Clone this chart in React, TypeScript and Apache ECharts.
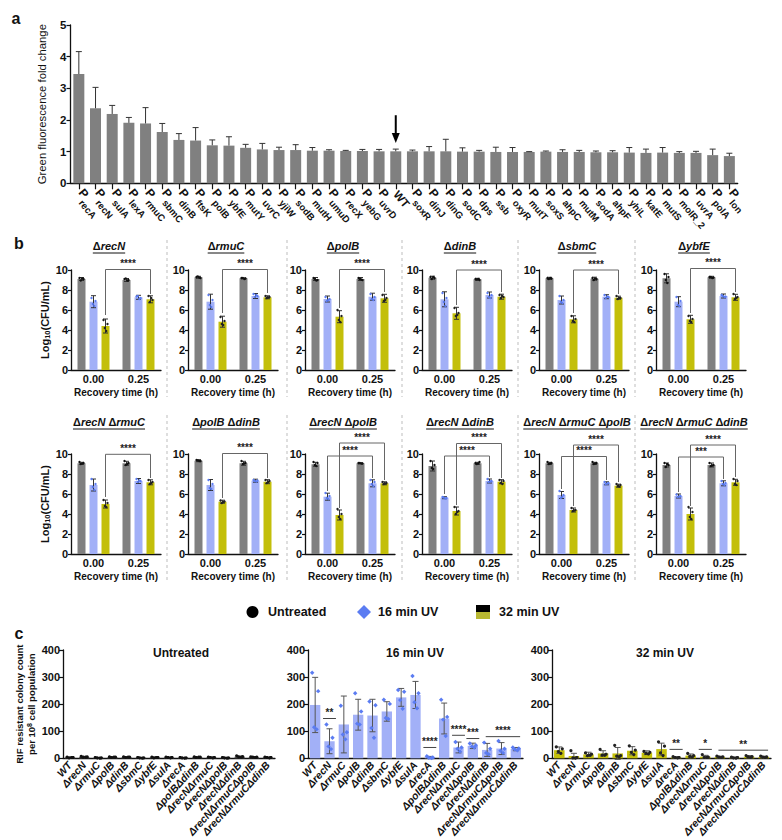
import React, { useEffect, useRef } from 'react';
import * as echarts from 'echarts';

const FONT = '"Liberation Sans", Arial, Helvetica, sans-serif';
const INK = '#111111';
const GRAY = '#808080';
const BLUE = '#a2b0f7';
const BLUE_DOT = '#5b7cf2';
const OLIVE = '#c3bf0a';

// ---------------- Panel a ----------------
const aLabels = ['recA', 'recN', 'sulA', 'lexA', 'rmuC', 'sbmC', 'dinB', 'ftsK', 'polB', 'ybfE', 'mutY', 'uvrC', 'yjiW', 'sodB', 'mutH', 'umuD', 'recX', 'yebG', 'uvrD', 'WT', 'soxR', 'dinJ', 'dinG', 'sodC', 'dps', 'ssb', 'oxyR', 'mutT', 'soxS', 'ahpC', 'mutM', 'sodA', 'ahpF', 'yhiL', 'katE', 'mutS', 'molR_2', 'uvrA', 'polA', 'lon'];
const aValues = [3.45, 2.37, 2.19, 1.91, 1.89, 1.62, 1.37, 1.35, 1.2, 1.19, 1.12, 1.07, 1.05, 1.05, 1.03, 1.03, 1.02, 1.02, 1.01, 1.01, 1.01, 1.01, 1.01, 1.0, 1.0, 0.99, 0.99, 0.99, 1.0, 0.99, 0.99, 0.98, 0.98, 0.97, 0.96, 0.97, 0.96, 0.96, 0.89, 0.86];
const aUpperErrors = [0.71, 0.66, 0.27, 0.17, 0.5, 0.27, 0.2, 0.41, 0.17, 0.28, 0.11, 0.19, 0.09, 0.17, 0.1, 0.03, 0.02, 0.05, 0.06, 0.07, 0.04, 0.15, 0.38, 0.12, 0.04, 0.15, 0.14, 0.01, 0.02, 0.07, 0.05, 0.04, 0.05, 0.16, 0.12, 0.16, 0.04, 0.05, 0.19, 0.09];
const aArrow = ['WT', 2.15, 1.27];

// ---------------- Panel b ----------------
const bTimes = ['0.00', '0.25'];
const bStrains = [['recN'], ['rmuC'], ['polB'], ['dinB'], ['sbmC'], ['ybfE'], ['recN', 'rmuC'], ['polB', 'dinB'], ['recN', 'polB'], ['recN', 'dinB'], ['recN', 'rmuC', 'polB'], ['recN', 'rmuC', 'dinB']];
const bUntreated = [[9.1, 9.0], [9.27, 9.17], [9.1, 9.1], [9.23, 9.07], [9.17, 9.13], [9.17, 9.27], [9.07, 9.07], [9.33, 9.07], [8.97, 9.07], [8.8, 9.07], [9.07, 9.07], [8.9, 8.9]];
const bUntreatedErr = [[0.15, 0.15], [0.1, 0.05], [0.15, 0.15], [0.15, 0.1], [0.1, 0.15], [0.45, 0.1], [0.1, 0.2], [0.1, 0.2], [0.2, 0.05], [0.5, 0.1], [0.1, 0.1], [0.2, 0.2]];
const bUV16 = [[6.83, 7.27], [6.83, 7.4], [7.1, 7.33], [7.07, 7.5], [7.0, 7.33], [6.83, 7.4], [6.9, 7.3], [6.9, 7.33], [5.73, 7.07], [5.63, 7.3], [5.9, 7.07], [5.8, 7.07]];
const bUV16Err = [[0.6, 0.2], [0.75, 0.25], [0.3, 0.35], [0.75, 0.3], [0.4, 0.2], [0.5, 0.2], [0.6, 0.25], [0.55, 0.15], [0.35, 0.35], [0.1, 0.2], [0.35, 0.15], [0.2, 0.25]];
const bUV32 = [[4.4, 7.07], [4.83, 7.27], [5.33, 7.17], [5.67, 7.33], [5.07, 7.23], [5.07, 7.27], [5.0, 7.17], [5.23, 7.23], [3.9, 7.07], [4.3, 7.23], [4.4, 6.83], [4.0, 7.17]];
const bUV32Err = [[0.7, 0.35], [0.55, 0.15], [0.6, 0.4], [0.6, 0.25], [0.35, 0.15], [0.4, 0.3], [0.4, 0.25], [0.15, 0.2], [0.5, 0.15], [0.4, 0.2], [0.2, 0.15], [0.6, 0.3]];
const bUntreatedPts = [
  [[9.2, 9.1, 8.95, 9.15], [9.1, 9.0, 9.15, 8.95]], [[9.3, 9.2, 9.35, 9.25], [9.2, 9.15, 9.2, 9.1]], [[9.2, 9.0, 9.1, 8.95], [9.2, 9.0, 9.1, 9.05]],
  [[9.3, 9.2, 9.1, 9.3], [9.1, 9.0, 9.05, 9.1]], [[9.2, 9.15, 9.1, 9.2], [9.2, 9.1, 9.0, 9.15]], [[9.6, 9.3, 9.0, 8.7], [9.3, 9.25, 9.3, 9.2]],
  [[9.2, 9.1, 9.0, 9.05], [9.3, 9.1, 8.9, 9.0]], [[9.4, 9.3, 9.35, 9.3], [9.3, 9.1, 9.0, 9.05]], [[9.2, 9.1, 8.9, 8.8], [9.1, 9.05, 9.1, 9.05]],
  [[9.3, 8.9, 8.6, 8.5], [9.1, 9.2, 9.0, 9.05]], [[9.2, 9.1, 9.0, 9.05], [9.2, 9.1, 9.0, 9.05]], [[9.1, 8.9, 8.7, 9.0], [9.1, 8.9, 8.8, 8.85]],
];
const bUV16Pts = [
  [[7.2, 6.9, 6.6, 6.4], [7.35, 7.2, 7.4, 7.1]], [[7.5, 7.0, 6.5, 6.3], [7.6, 7.4, 7.3, 7.5]], [[7.3, 7.1, 6.9, 7.0], [7.6, 7.3, 7.1, 7.0]],
  [[7.7, 7.2, 6.8, 6.4], [7.7, 7.5, 7.3, 7.2]], [[7.4, 7.0, 6.8, 6.7], [7.5, 7.3, 7.2, 7.35]], [[7.3, 6.9, 6.5, 6.4], [7.5, 7.35, 7.4, 7.3]],
  [[7.5, 7.0, 6.7, 6.4], [7.5, 7.3, 7.2, 7.35]], [[7.4, 7.0, 6.6, 6.5], [7.4, 7.35, 7.3, 7.25]], [[6.1, 5.8, 5.6, 5.5], [7.4, 7.2, 7.0, 6.8]],
  [[5.7, 5.6, 5.65, 5.55], [7.5, 7.3, 7.2, 7.25]], [[6.3, 5.9, 5.6, 5.7], [7.2, 7.1, 7.0, 7.05]], [[5.95, 5.8, 5.7, 5.75], [7.3, 7.1, 7.0, 6.9]],
];
const bUV32Pts = [
  [[5.0, 4.6, 4.2, 3.9], [7.4, 7.0, 6.8, 7.2]], [[5.3, 4.9, 4.6, 4.5], [7.4, 7.3, 7.2, 7.25]], [[6.0, 5.4, 5.0, 4.8], [7.5, 7.2, 6.9, 7.0]],
  [[6.2, 5.7, 5.4, 5.5], [7.5, 7.3, 7.2, 7.4]], [[5.4, 5.1, 4.9, 4.8], [7.4, 7.2, 7.1, 7.2]], [[5.4, 5.1, 4.9, 4.8], [7.6, 7.3, 7.1, 7.2]],
  [[5.4, 5.1, 4.8, 4.7], [7.4, 7.2, 7.0, 7.1]], [[5.35, 5.25, 5.1, 5.2], [7.4, 7.3, 7.1, 7.2]], [[4.5, 4.0, 3.7, 3.5], [7.2, 7.1, 7.0, 7.05]],
  [[4.7, 4.3, 4.0, 4.2], [7.4, 7.3, 7.1, 7.0]], [[4.6, 4.4, 4.3, 4.35], [7.0, 6.9, 6.8, 6.75]], [[4.7, 4.2, 3.7, 3.5], [7.5, 7.3, 7.0, 6.9]],
];
// [time, series, time, series, bracket level, left end, right end, label]
const bBrackets: any[][] = [
  [[0, 2, 1, 2, 10.05, 5.5, 7.6, '****']],
  [[0, 2, 1, 2, 10.05, 5.7, 7.7, '****']],
  [[0, 2, 1, 2, 10.05, 6.2, 7.8, '****']],
  [[0, 2, 1, 2, 10.0, 6.5, 7.8, '****']],
  [[0, 2, 1, 2, 10.0, 5.7, 7.6, '****']],
  [[0, 2, 1, 2, 10.15, 5.7, 7.8, '****']],
  [[0, 2, 1, 2, 9.97, 5.7, 7.6, '****']],
  [[0, 2, 1, 2, 10.05, 5.6, 7.6, '****']],
  [[0, 1, 1, 1, 9.8, 6.3, 7.6, '****'], [0, 2, 1, 2, 11.1, 4.6, 7.4, '****']],
  [[0, 1, 1, 1, 9.8, 6.0, 7.7, '****'], [0, 2, 1, 2, 11.05, 4.9, 7.6, '****']],
  [[0, 1, 1, 1, 9.75, 6.5, 7.4, '****'], [0, 2, 1, 2, 10.9, 4.8, 7.2, '****']],
  [[0, 1, 1, 1, 9.7, 6.2, 7.5, '***'], [0, 2, 1, 2, 10.9, 4.8, 7.7, '****']],
];

// ---------------- Panel c ----------------
const cStrains = ['WT', 'ΔrecN', 'ΔrmuC', 'ΔpolB', 'ΔdinB', 'ΔsbmC', 'ΔybfE', 'ΔsulA', 'ΔrecA', 'ΔpolBΔdinB', 'ΔrecNΔrmuC', 'ΔrecNΔpolB', 'ΔrecNΔdinB', 'ΔrecNΔrmuCΔpolB', 'ΔrecNΔrmuCΔdinB'];
const cPanelTitles = ['Untreated', '16 min UV', '32 min UV'];
const cUntreated = [3, 5, 2, 4, 4, 2, 3, 3, 2, 4, 3, 2, 6, 4, 3];
const cUntreatedErr = [1, 2, 1, 1, 1, 1, 1, 1, 1, 1, 1, 1, 2, 1, 1];
const cUntreatedPts = [[4, 3, 2, 3], [7, 5, 4, 4], [3, 2, 2, 1], [5, 4, 3, 4], [5, 4, 3, 4], [3, 2, 2, 1], [4, 3, 2, 3], [4, 3, 3, 2], [3, 2, 2, 1], [5, 4, 3, 4], [4, 3, 3, 2], [3, 2, 2, 1], [9, 6, 5, 4], [5, 4, 4, 3], [4, 3, 3, 2]];
const cUV16 = [197, 63, 125, 161, 158, 173, 225, 234, 4, 147, 40, 46, 31, 36, 34];
const cUV16Err = [102, 46, 105, 57, 60, 36, 33, 50, 3, 57, 20, 10, 24, 22, 6];
const cUV16Pts = [[316, 248, 115, 107], [125, 76, 44, 34], [194, 96, 88, 70], [240, 173, 128, 125], [210, 196, 112, 76], [216, 201, 149, 145], [252, 246, 215, 183], [304, 240, 207, 185], [8, 3, 2, 1], [216, 153, 143, 82], [60, 40, 35, 25], [55, 48, 44, 40], [58, 35, 20, 15], [64, 35, 28, 20], [40, 36, 33, 30]];
const cUV32 = [30, 8.5, 14.5, 18, 18, 28, 20.6, 34, 3.6, 10, 6, 5, 2.4, 6, 5];
const cUV32Err = [12, 10, 8, 10, 22, 15, 7, 22, 2, 6, 5, 3, 2, 4, 3];
const cUV32Pts = [[42, 35, 25, 18], [28, 3, 2, 1], [20, 15, 10, 12], [33, 15, 12, 12], [48, 10, 8, 6], [46, 30, 22, 14], [26, 22, 18, 16], [61, 45, 20, 10], [6, 3, 3, 2], [18, 10, 7, 5], [14, 4, 3, 3], [8, 5, 4, 3], [4, 3, 2, 1], [10, 6, 5, 3], [8, 5, 4, 3]];
// [first strain, last strain, level, label]
const cUV16Sig: any[][] = [[1, 1, 147, '**'], [8, 8, 40, '****'], [10, 10, 85, '****'], [11, 11, 73, '***'], [12, 14, 80, '****']];
const cUV32Sig: any[][] = [[8, 8, 33, '**'], [10, 10, 33, '*'], [11, 14, 30, '**']];

// ---------------- helpers ----------------
function measure(font: string, text: string) {
  const ctx = document.createElement('canvas').getContext('2d') as CanvasRenderingContext2D;
  ctx.font = font;
  return ctx.measureText(text).width;
}

function errorRender(offsets: number[], cap: number, color: string, upOnly: boolean) {
  return (params: any, api: any) => {
    const cat = api.value(0);
    const mean = api.value(1);
    const err = api.value(2);
    const s = api.value(3);
    const top = api.coord([cat, mean + err]);
    const bot = api.coord([cat, upOnly ? mean : mean - err]);
    const x = top[0] + offsets[s];
    const st = { stroke: color, lineWidth: 1 };
    const children: any[] = [
      { type: 'line', shape: { x1: x, y1: top[1], x2: x, y2: bot[1] }, style: st },
      { type: 'line', shape: { x1: x - cap, y1: top[1], x2: x + cap, y2: top[1] }, style: st },
    ];
    if (!upOnly) children.push({ type: 'line', shape: { x1: x - cap, y1: bot[1], x2: x + cap, y2: bot[1] }, style: st });
    return { type: 'group', children };
  };
}

function pointRender(offsets: number[], jitter: number[], shapes: string[], colors: string[], size: number) {
  return (params: any, api: any) => {
    const cat = api.value(0);
    const v = api.value(1);
    const s = api.value(2);
    const k = api.value(3);
    const p = api.coord([cat, v]);
    const x = p[0] + offsets[s] + jitter[k % jitter.length];
    const y = p[1];
    if (shapes[s] === 'diamond') {
      const h = size * 1.3;
      return { type: 'polygon', shape: { points: [[x, y - h], [x + h, y], [x, y + h], [x - h, y]] }, style: { fill: colors[s] } };
    }
    return { type: 'circle', shape: { cx: x, cy: y, r: size }, style: { fill: colors[s] } };
  };
}

function starText(text: string, x: number, y: number) {
  return {
    type: 'text',
    style: { text, x, y, font: `bold 10px ${FONT}`, fill: '#222', align: 'center', verticalAlign: 'bottom', textAlign: 'center', textVerticalAlign: 'bottom' },
  };
}

function bracketRender(list: any[][], offsets: number[]) {
  return (params: any, api: any) => {
    const b = list[params.dataIndex];
    const [c1, s1, c2, s2, yl, yL, yR, label] = b;
    const pL = api.coord([c1, yl]);
    const pR = api.coord([c2, yl]);
    const xL = pL[0] + offsets[s1];
    const xR = pR[0] + offsets[s2];
    const yLine = pL[1];
    const yLe = api.coord([c1, yL])[1];
    const yRe = api.coord([c2, yR])[1];
    const st = { stroke: '#666', lineWidth: 1 };
    return {
      type: 'group',
      children: [
        { type: 'polyline', shape: { points: [[xL, yLe], [xL, yLine], [xR, yLine], [xR, yRe]] }, style: { ...st, fill: null } },
        starText(label, (xL + xR) / 2, yLine - 1),
      ],
    };
  };
}

function sigRender(list: any[][]) {
  return (params: any, api: any) => {
    const [c1, c2, lv, label] = list[params.dataIndex];
    const bw = api.size([1, 0])[0];
    const p1 = api.coord([c1, lv]);
    const p2 = api.coord([c2, lv]);
    let x1: number, x2: number;
    if (c1 === c2) {
      x1 = p1[0] - bw * 0.45;
      x2 = p1[0] + bw * 0.45;
    } else {
      x1 = p1[0] - bw * 0.1;
      x2 = p2[0] + bw * 0.3;
    }
    return {
      type: 'group',
      children: [
        { type: 'line', shape: { x1, y1: p1[1], x2, y2: p1[1] }, style: { stroke: '#444', lineWidth: 1 } },
        starText(label, (x1 + x2) / 2, p1[1] - 1),
      ],
    };
  };
}

function buildOption() {
  const grid: any[] = [];
  const xAxis: any[] = [];
  const yAxis: any[] = [];
  const series: any[] = [];
  const graphic: any[] = [];

  const axisLine = { show: true, lineStyle: { color: INK, width: 1.3 } };
  const tick = (len: number) => ({ show: true, length: len, lineStyle: { color: INK, width: 1.2 } });
  const label = (size: number, extra: any = {}) => ({ fontFamily: FONT, fontWeight: 'bold', fontSize: size, color: INK, ...extra });

  // ---------- panel a ----------
  grid.push({ left: 70.5, top: 25, width: 667.2, height: 158.3 });
  xAxis.push({
    gridIndex: 0, type: 'category', data: aLabels, axisLine, axisTick: { ...tick(6), alignWithLabel: true },
    axisLabel: {
      interval: 0, rotate: -50, margin: 9, color: INK,
      formatter: (v: string) => (v === 'WT' ? '{w|WT}' : `{p|P}{g|${v}}`),
      rich: {
        p: { fontFamily: FONT, fontWeight: 'bold', fontSize: 12, color: INK, lineHeight: 18, verticalAlign: 'top' },
        g: { fontFamily: FONT, fontWeight: 'bold', fontSize: 9.5, color: INK, lineHeight: 18, verticalAlign: 'bottom' },
        w: { fontFamily: FONT, fontWeight: 'bold', fontSize: 11.5, color: INK },
      },
    },
  });
  yAxis.push({
    gridIndex: 0, type: 'value', min: 0, max: 5, interval: 1, axisLine, axisTick: tick(4), splitLine: { show: false },
    axisLabel: label(11.5, { margin: 4 }),
    name: 'Green fluorescence fold change', nameLocation: 'middle', nameGap: 23,
    nameTextStyle: { fontFamily: FONT, fontSize: 11.3, color: INK },
  });
  series.push({ type: 'bar', xAxisIndex: 0, yAxisIndex: 0, data: aValues, barWidth: 11, itemStyle: { color: GRAY }, silent: true });
  series.push({
    type: 'custom', xAxisIndex: 0, yAxisIndex: 0, clip: false, silent: true, z: 3,
    data: aValues.map((v, i) => [i, v, aUpperErrors[i], 0]),
    renderItem: errorRender([0], 3, '#333', true),
  });
  series.push({
    type: 'custom', xAxisIndex: 0, yAxisIndex: 0, clip: false, silent: true, z: 4,
    data: [[aLabels.indexOf(aArrow[0] as string), aArrow[1], aArrow[2]]],
    renderItem: (params: any, api: any) => {
      const p1 = api.coord([api.value(0), api.value(1)]);
      const p2 = api.coord([api.value(0), api.value(2)]);
      const x = p1[0];
      return {
        type: 'group', children: [
          { type: 'line', shape: { x1: x, y1: p1[1], x2: x, y2: p2[1] - 8 }, style: { stroke: '#000', lineWidth: 2 } },
          { type: 'polygon', shape: { points: [[x - 4, p2[1] - 10], [x + 4, p2[1] - 10], [x, p2[1]]] }, style: { fill: '#000' } },
        ],
      };
    },
  });

  // ---------- panel b ----------
  const BW = 8;
  const bOff = [-1.5 * BW, 0, 1.5 * BW];
  const bColors = [GRAY, BLUE, OLIVE];
  for (let p = 0; p < 12; p++) {
    const gi = 1 + p;
    const col = p % 6;
    const row = Math.floor(p / 6);
    const left = 71 + col * 117;
    const top = 270 + row * 184;
    grid.push({ left, top, width: 90, height: 100 });
    xAxis.push({
      gridIndex: gi, type: 'category', data: bTimes, axisLine, axisTick: { show: false },
      axisLabel: label(11, { margin: 3 }),
      name: 'Recovery time (h)', nameLocation: 'middle', nameGap: 17,
      nameTextStyle: label(10),
    });
    yAxis.push({
      gridIndex: gi, type: 'value', min: 0, max: 10, interval: 2, axisLine, axisTick: tick(3), splitLine: { show: false },
      axisLabel: label(11, { margin: 3 }),
      name: col === 0 ? 'Log{s|10}(CFU/mL)' : '', nameLocation: 'middle', nameGap: 18,
      nameTextStyle: {
        ...label(11),
        rich: { s: { fontFamily: FONT, fontWeight: 'bold', fontSize: 7.5, color: INK, verticalAlign: 'bottom', padding: [5, 0, 0, 0] } },
      },
    });
    const sets = [bUntreated[p], bUV16[p], bUV32[p]];
    const errs = [bUntreatedErr[p], bUV16Err[p], bUV32Err[p]];
    const pts = [bUntreatedPts[p], bUV16Pts[p], bUV32Pts[p]];
    sets.forEach((d, s) => {
      series.push({ type: 'bar', xAxisIndex: gi, yAxisIndex: gi, data: d, barWidth: BW, barGap: '50%', itemStyle: { color: bColors[s] }, silent: true });
    });
    const errData: any[] = [];
    const ptData: any[] = [];
    sets.forEach((d, s) => d.forEach((v, t) => {
      errData.push([t, v, errs[s][t], s]);
      pts[s][t].forEach((pv, k) => ptData.push([t, pv, s, k]));
    }));
    series.push({ type: 'custom', xAxisIndex: gi, yAxisIndex: gi, clip: false, silent: true, z: 3, data: errData, renderItem: errorRender(bOff, 2.5, '#333', false) });
    series.push({ type: 'custom', xAxisIndex: gi, yAxisIndex: gi, clip: false, silent: true, z: 4, data: ptData, renderItem: pointRender(bOff, [-2, 2, -0.7, 0.8], ['circle', 'circle', 'circle'], ['#111', BLUE_DOT, '#222'], 1.2) });
    series.push({ type: 'custom', xAxisIndex: gi, yAxisIndex: gi, clip: false, silent: true, z: 5, data: bBrackets[p].map((b) => [b[0], b[4]]), renderItem: bracketRender(bBrackets[p], bOff) });

    // title with underline
    const cx = left + 38;
    const cy = row === 0 ? 246 : 422;
    const genes = bStrains[p];
    const fD = `bold 11px ${FONT}`;
    const fG = `italic bold 11px ${FONT}`;
    let w = 0;
    genes.forEach((g, i) => { w += measure(fD, 'Δ') + measure(fG, g) + (i > 0 ? measure(fD, ' ') : 0); });
    graphic.push({
      type: 'text', x: cx, y: cy, silent: true,
      style: {
        text: genes.map((g) => `{d|Δ}{g|${g}}`).join('{d| }'),
        rich: {
          d: { fontFamily: FONT, fontWeight: 'bold', fontSize: 11, fill: INK, color: INK },
          g: { fontFamily: FONT, fontWeight: 'bold', fontStyle: 'italic', fontSize: 11, fill: INK, color: INK },
        },
        align: 'center', verticalAlign: 'middle', textAlign: 'center', textVerticalAlign: 'middle',
      },
    });
    graphic.push({ type: 'line', silent: true, shape: { x1: cx - w / 2, y1: cy + 7, x2: cx + w / 2, y2: cy + 7 }, style: { stroke: INK, lineWidth: 1 } });
  }
  // dashed separators
  [167, 287, 402, 518, 635].forEach((x) => {
    graphic.push({ type: 'line', silent: true, shape: { x1: x, y1: 240, x2: x, y2: 397 }, style: { stroke: '#bdbdbd', lineWidth: 1, lineDash: [3, 3] } });
    graphic.push({ type: 'line', silent: true, shape: { x1: x, y1: 415, x2: x, y2: 582 }, style: { stroke: '#bdbdbd', lineWidth: 1, lineDash: [3, 3] } });
  });

  // ---------- panel c ----------
  const cLayout = [
    { left: 63, width: 212 },
    { left: 308, width: 215 },
    { left: 552, width: 219 },
  ];
  const cTitleX = [181, 415, 665];
  const cSets = [cUntreated, cUV16, cUV32];
  const cErrs = [cUntreatedErr, cUV16Err, cUV32Err];
  const cPts = [cUntreatedPts, cUV16Pts, cUV32Pts];
  const cBarColors = ['#555555', BLUE, OLIVE];
  const cDotColors = ['#111', BLUE_DOT, '#222'];
  const cSigs = [[], cUV16Sig, cUV32Sig];
  for (let k = 0; k < 3; k++) {
    const gi = 13 + k;
    grid.push({ left: cLayout[k].left, width: cLayout[k].width, top: 650, height: 110 });
    xAxis.push({
      gridIndex: gi, type: 'category', data: cStrains, axisLine, axisTick: { show: false },
      axisLabel: { interval: 0, rotate: 48, margin: 5, fontFamily: FONT, fontWeight: 'bold', fontStyle: 'italic', fontSize: 10.5, color: INK },
    });
    yAxis.push({
      gridIndex: gi, type: 'value', min: 0, max: 400, interval: 100, axisLine, axisTick: tick(4), splitLine: { show: false },
      axisLabel: label(11, { margin: 3 }),
      name: k === 0 ? 'RIF resistant colony count\nper 10{sup|8} cell population' : '', nameLocation: 'middle', nameGap: 24,
      nameTextStyle: {
        ...label(9.5), lineHeight: 12,
        rich: { sup: { fontFamily: FONT, fontWeight: 'bold', fontSize: 7, color: INK, verticalAlign: 'top', padding: [0, 0, 4, 0] } },
      },
    });
    series.push({ type: 'bar', xAxisIndex: gi, yAxisIndex: gi, data: cSets[k], barWidth: '72%', itemStyle: { color: cBarColors[k] }, silent: true });
    series.push({
      type: 'custom', xAxisIndex: gi, yAxisIndex: gi, clip: false, silent: true, z: 3,
      data: cSets[k].map((v, i) => [i, v, cErrs[k][i], 0]),
      renderItem: errorRender([0], 3, '#555', false),
    });
    const pd: any[] = [];
    cPts[k].forEach((arr, i) => arr.forEach((v, j) => pd.push([i, v, 0, j])));
    series.push({
      type: 'custom', xAxisIndex: gi, yAxisIndex: gi, clip: false, silent: true, z: 4, data: pd,
      renderItem: pointRender([0], [-3, 3, -1, 1.5], [k === 1 ? 'diamond' : 'circle'], [cDotColors[k]], k === 1 ? 1.7 : 1.6),
    });
    if (cSigs[k].length) {
      const list = cSigs[k];
      series.push({
        type: 'custom', xAxisIndex: gi, yAxisIndex: gi, clip: false, silent: true, z: 5,
        data: list.map((s: any) => [s[0], s[2]]), renderItem: sigRender(list),
      });
    }
    graphic.push({
      type: 'text', x: cTitleX[k], y: 653, silent: true,
      style: { text: cPanelTitles[k], font: `bold 12px ${FONT}`, fill: INK, align: 'center', verticalAlign: 'middle', textAlign: 'center', textVerticalAlign: 'middle' },
    });
  }

  // ---------- panel letters ----------
  const letters: [string, number, number][] = [['a', 16, 18], ['b', 19, 243], ['c', 19, 633]];
  letters.forEach(([t, x, y]) => graphic.push({
    type: 'text', x, y, silent: true,
    style: { text: t, font: `bold 16px ${FONT}`, fill: INK, align: 'center', verticalAlign: 'middle', textAlign: 'center', textVerticalAlign: 'middle' },
  }));

  // ---------- legend ----------
  const legFont = `bold 12.5px ${FONT}`;
  const legText = (text: string, x: number) => ({
    type: 'text', x, y: 612, silent: true,
    style: { text, font: legFont, fill: INK, align: 'left', verticalAlign: 'middle', textAlign: 'left', textVerticalAlign: 'middle' },
  });
  graphic.push({ type: 'circle', silent: true, shape: { cx: 252.5, cy: 612, r: 6 }, style: { fill: '#000' } });
  graphic.push(legText('Untreated', 268));
  graphic.push({ type: 'polygon', silent: true, shape: { points: [[364, 605], [371, 612], [364, 619], [357, 612]] }, style: { fill: BLUE_DOT } });
  graphic.push(legText('16 min UV', 378));
  graphic.push({ type: 'rect', silent: true, shape: { x: 476, y: 605, width: 14, height: 7 }, style: { fill: '#000' } });
  graphic.push({ type: 'rect', silent: true, shape: { x: 476, y: 612, width: 14, height: 7 }, style: { fill: '#b9b832' } });
  graphic.push(legText('32 min UV', 499));

  return {
    animation: false,
    backgroundColor: '#ffffff',
    textStyle: { fontFamily: FONT },
    grid, xAxis, yAxis, series, graphic,
  };
}

export default function App() {
  const ref = useRef<HTMLDivElement>(null);
  useEffect(() => {
    document.body.style.margin = '0';
    const chart = echarts.init(ref.current as HTMLDivElement, null, { renderer: 'svg' });
    chart.setOption(buildOption() as any);
    return () => chart.dispose();
  }, []);
  return <div ref={ref} style={{ width: 782, height: 840 }} />;
}
